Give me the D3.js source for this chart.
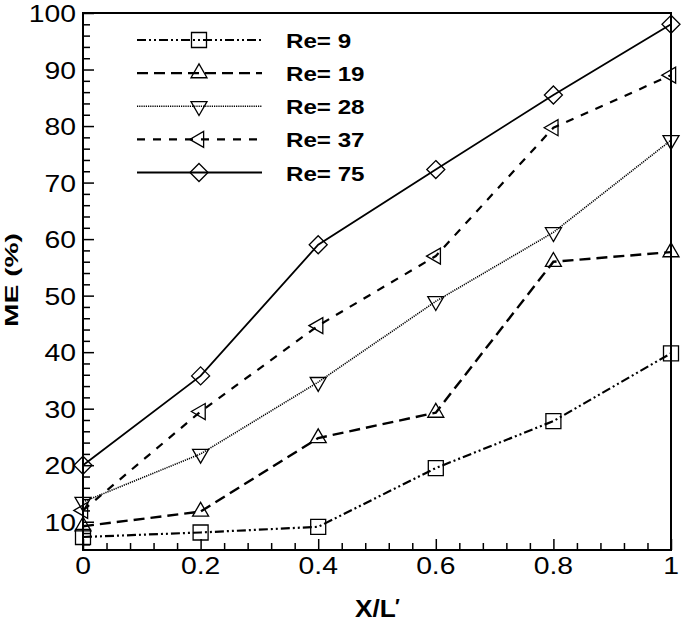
<!DOCTYPE html>
<html>
<head>
<meta charset="utf-8">
<script src="https://cdn.jsdelivr.net/npm/d3@7"></script>
<style>
  body { margin: 0; background: #fff; }
  svg { display: block; font-family: "Liberation Sans", Arial, sans-serif; }
</style>
</head>
<body>
<div id="viz"></div>
<script>
// Data
const xValues = [0, 0.2, 0.4, 0.6, 0.8, 1];
const seriesNames = ["Re= 9", "Re= 19", "Re= 28", "Re= 37", "Re= 75"];
const re9  = [7.3, 8.1, 9.1, 19.5, 27.8, 39.8];
const re19 = [9.2, 11.8, 24.8, 29.3, 56, 57.7];
const re28 = [13.5, 22, 34.7, 49, 61.2, 77.5];
const re37 = [12, 29.5, 44.7, 57, 79.7, 89];
const re75 = [20, 35.8, 59, 72.3, 85.5, 98];
const xTickLabels = ["0", "0.2", "0.4", "0.6", "0.8", "1"];
const yTickValues = [10, 20, 30, 40, 50, 60, 70, 80, 90, 100];

const width = 685;
const height = 623;
const margin = {left: 83, right: 13, top: 13, bottom: 73};

const svg = d3.select("#viz")
    .append("svg")
    .attr("width", width)
    .attr("height", height);

const x = d3.scaleLinear().domain([0, 1]).range([margin.left, width - margin.right - 1]);
const y = d3.scaleLinear().domain([5, 100]).range([height - margin.bottom, margin.top]);

// line styles and markers per series
const styles = [
    {dash: "9,3,2,3,2,3", width: 2.2, marker: "square"},
    {dash: "11,6", width: 2.4, marker: "up"},
    {dash: "1.2,1", width: 1.6, marker: "down"},
    {dash: "8,8", width: 2.2, marker: "left"},
    {dash: null, width: 1.8, marker: "diamond"}
];
const allSeries = [re9, re19, re28, re37, re75];

function markerPath(type) {
    if (type === "square") return "M-7.5,-7.5H7.5V7.5H-7.5Z";
    if (type === "diamond") return "M0,-9L9,0L0,9L-9,0Z";
    // triangles centred on their centroid
    const s = 16, h = s * Math.sqrt(3) / 2;
    const up = [[0, -2 * h / 3], [s / 2, h / 3], [-s / 2, h / 3]];
    let pts = up;
    if (type === "down") pts = up.map(p => [p[0], -p[1]]);
    if (type === "left") pts = up.map(p => [p[1], p[0]]);
    return "M" + pts.map(p => p.join(",")).join("L") + "Z";
}

// ticks (inward), major and minor
const yMinor = d3.range(6, 100, 2).filter(v => v % 10 !== 0);
const xMinor = d3.range(0, 1.0001, 0.04).filter(v => Math.abs(v * 5 - Math.round(v * 5)) > 0.01);

function tickAxis(axis, tr) {
    const g = svg.append("g").attr("transform", tr).call(axis);
    g.select(".domain").remove();
    g.selectAll("line").attr("stroke", "#000").attr("stroke-width", 1.5);
    return g;
}
tickAxis(d3.axisLeft(y).tickValues(yTickValues).tickSize(-11).tickFormat(""), `translate(${margin.left},0)`);
tickAxis(d3.axisLeft(y).tickValues(yMinor).tickSize(-7).tickFormat(""), `translate(${margin.left},0)`);
tickAxis(d3.axisBottom(x).tickValues(xValues).tickSize(-11).tickFormat(""), `translate(0,${y(5)})`);
tickAxis(d3.axisBottom(x).tickValues(xMinor).tickSize(-7).tickFormat(""), `translate(0,${y(5)})`);

// frame
svg.append("rect")
    .attr("x", x(0)).attr("y", y(100))
    .attr("width", x(1) - x(0)).attr("height", y(5) - y(100))
    .attr("fill", "none").attr("stroke", "#000").attr("stroke-width", 2);

// tick labels (the reference font is a little wider than Arial)
svg.selectAll(".ylab")
    .data(yTickValues)
    .join("text")
    .attr("class", "ylab")
    .attr("transform", d => `translate(76,${y(d) + 9}) scale(1.18,1)`)
    .attr("text-anchor", "end")
    .style("font-size", "24px")
    .text(d => d);

svg.selectAll(".xlab")
    .data(xValues)
    .join("text")
    .attr("class", "xlab")
    .attr("transform", d => `translate(${x(d)},574) scale(1.18,1)`)
    .attr("text-anchor", "middle")
    .style("font-size", "24px")
    .text((d, i) => xTickLabels[i]);

// axis titles
svg.append("text")
    .attr("transform", "translate(355,617) scale(1.14,1)")
    .style("font-size", "23px")
    .style("font-weight", "bold")
    .text("X/L");
svg.append("text")
    .attr("x", 395).attr("y", 613)
    .style("font-size", "20px")
    .style("font-weight", "bold")
    .text("′");

svg.append("text")
    .attr("transform", "translate(18,327) rotate(-90)")
    .attr("textLength", 94)
    .attr("lengthAdjust", "spacingAndGlyphs")
    .style("font-size", "19px")
    .style("font-weight", "bold")
    .text("ME (%)");

// data lines and markers
const line = d3.line()
    .x((d, i) => x(xValues[i]))
    .y(d => y(d));

allSeries.forEach((vals, k) => {
    const st = styles[k];
    svg.append("path")
        .datum(vals)
        .attr("d", line)
        .attr("fill", "none")
        .attr("stroke", "#000")
        .attr("stroke-width", st.width)
        .attr("stroke-dasharray", st.dash);
    svg.selectAll(".m" + k)
        .data(vals)
        .join("path")
        .attr("class", "m" + k)
        .attr("transform", (d, i) => `translate(${x(xValues[i])},${y(d)})`)
        .attr("d", markerPath(st.marker))
        .attr("fill", "none")
        .attr("stroke", "#000")
        .attr("stroke-width", 1.3);
});

// legend
const legendY = d3.scaleLinear().domain([0, 4]).range([40, 172.5]);
seriesNames.forEach((name, k) => {
    const st = styles[k];
    const ly = legendY(k);
    svg.append("line")
        .attr("x1", 137).attr("x2", 262)
        .attr("y1", ly).attr("y2", ly)
        .attr("stroke", "#000")
        .attr("stroke-width", st.width)
        .attr("stroke-dasharray", st.dash);
    svg.append("path")
        .attr("transform", `translate(199,${ly})`)
        .attr("d", markerPath(st.marker))
        .attr("fill", "none")
        .attr("stroke", "#000")
        .attr("stroke-width", 1.3);
    svg.append("text")
        .attr("transform", `translate(286,${ly + 8}) scale(1.15,1)`)
        .style("font-size", "21px")
        .style("font-weight", "bold")
        .text(name);
});
</script>
</body>
</html>
